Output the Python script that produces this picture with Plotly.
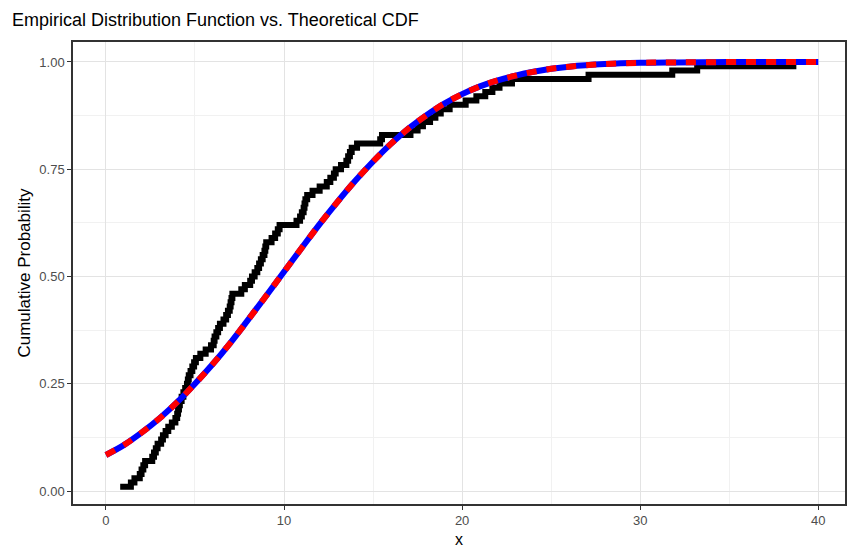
import plotly.graph_objects as go

# Empirical sample (sorted); n = 100
ecdf_x = [0.8, 1.4, 1.6, 1.9, 2.0, 2.1, 2.2, 2.6, 2.7, 2.8,
          2.9, 3.1, 3.2, 3.35, 3.5, 3.7, 3.9, 4.0, 4.05, 4.1,
          4.15, 4.25, 4.35, 4.45, 4.55, 4.6, 4.65, 4.75, 4.85, 4.95,
          5.05, 5.3, 5.6, 5.9, 6.05, 6.1, 6.2, 6.3, 6.4, 6.6,
          6.75, 6.85, 6.95, 7.0, 7.05, 7.1, 7.6, 7.8, 8.1, 8.2,
          8.35, 8.5, 8.6, 8.7, 8.8, 8.9, 8.95, 9.0, 9.3, 9.5,
          9.65, 9.75, 10.7, 10.9, 11.0, 11.1, 11.15, 11.2, 11.3, 11.6,
          12.0, 12.4, 12.6, 12.8, 12.9, 13.2, 13.5, 13.6, 13.7, 13.8,
          14.1, 15.4, 15.5, 17.1, 17.5, 17.8, 18.2, 18.5, 18.8, 19.3,
          20.2, 20.8, 21.3, 21.7, 22.1, 22.8, 27.1, 31.8, 33.2, 38.6]
ecdf_y = [(i + 1) / len(ecdf_x) for i in range(len(ecdf_x))]

# Theoretical CDF
cdf_x = [0, 1, 2, 3, 4, 5, 6, 7, 8, 9, 10, 11, 12, 13, 14, 15, 16, 17, 18, 19,
         20, 21, 22, 23, 24, 25, 26, 28, 30, 32, 35, 40]
cdf_y = [0.084, 0.107, 0.136, 0.169, 0.207, 0.250, 0.296, 0.346, 0.400, 0.455,
         0.511, 0.567, 0.622, 0.674, 0.723, 0.768, 0.809, 0.845, 0.876, 0.903,
         0.925, 0.943, 0.957, 0.968, 0.977, 0.984, 0.989, 0.995, 0.998, 0.999,
         0.9997, 1.0]

x_ticks = [0, 10, 20, 30, 40]
y_ticks = [0.0, 0.25, 0.50, 0.75, 1.00]
y_tick_text = ["0.00", "0.25", "0.50", "0.75", "1.00"]

fig = go.Figure()
fig.add_trace(go.Scatter(x=ecdf_x, y=ecdf_y, mode="lines",
                         line=dict(color="black", width=6, shape="hv"),
                         showlegend=False))
fig.add_trace(go.Scatter(x=cdf_x, y=cdf_y, mode="lines",
                         line=dict(color="#0000FF", width=6, shape="spline"),
                         showlegend=False))
fig.add_trace(go.Scatter(x=cdf_x, y=cdf_y, mode="lines",
                         line=dict(color="#FF0000", width=6, shape="spline",
                                   dash="10px,10px"),
                         showlegend=False))

font_fam = "Liberation Sans, Arial, sans-serif"
fig.update_layout(
    width=847, height=548,
    margin=dict(l=73, r=0, t=42, b=44),
    paper_bgcolor="white", plot_bgcolor="white",
    title=dict(text="Empirical Distribution Function vs. Theoretical CDF",
               x=12 / 847, xanchor="left", y=1 - 20 / 548, yanchor="middle",
               font=dict(family=font_fam, size=18, color="black")),
    font=dict(family=font_fam),
    xaxis=dict(range=[-1.85, 41.5], tickmode="array", tickvals=x_ticks,
               ticks="outside", ticklen=4, tickcolor="#333333",
               tickfont=dict(size=13, color="#4D4D4D"),
               showgrid=True, gridcolor="#E3E3E3", gridwidth=1,
               minor=dict(tickvals=[5, 15, 25, 35], showgrid=True,
                          gridcolor="#F1F1F1", gridwidth=1, ticks=""),
               showline=True, linecolor="#333333", linewidth=1.5, mirror=True,
               zeroline=False,
               title=dict(text="x", font=dict(size=16, color="black"), standoff=6)),
    yaxis=dict(range=[-0.0302, 1.0465], tickmode="array", tickvals=y_ticks,
               ticktext=y_tick_text,
               ticks="outside", ticklen=4, tickcolor="#333333",
               tickfont=dict(size=13, color="#4D4D4D"),
               showgrid=True, gridcolor="#E3E3E3", gridwidth=1,
               minor=dict(tickvals=[0.125, 0.375, 0.625, 0.875], showgrid=True,
                          gridcolor="#F1F1F1", gridwidth=1, ticks=""),
               showline=True, linecolor="#333333", linewidth=1.5, mirror=True,
               zeroline=False,
               title=dict(text="Cumulative Probability",
                          font=dict(size=17, color="black"), standoff=4)),
)

fig.write_html("out.html")
